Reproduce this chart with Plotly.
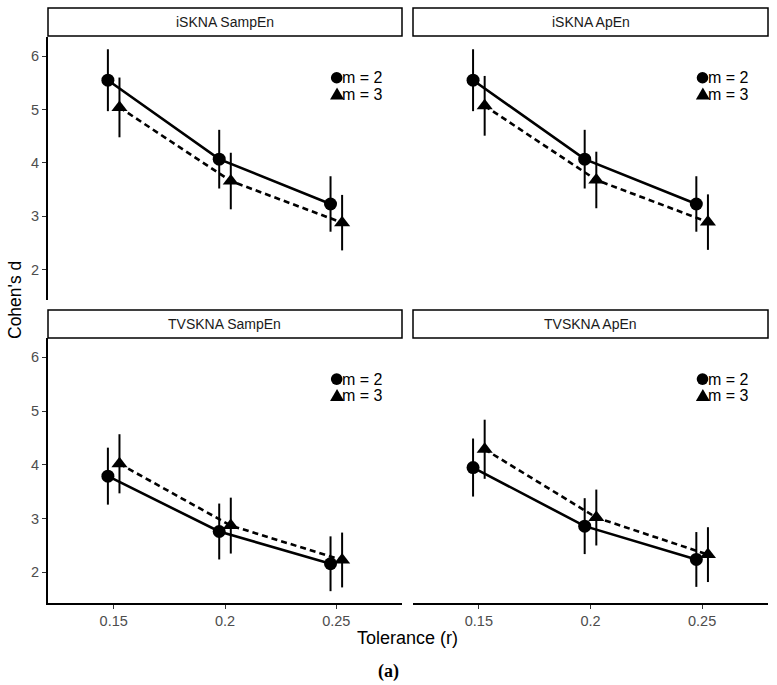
import plotly.graph_objects as go

W, H = 777, 685

tolerance = [0.15, 0.2, 0.25]
panels = ["iSKNA SampEn", "iSKNA ApEn", "TVSKNA SampEn", "TVSKNA ApEn"]

# Cohen's d estimates and error half-widths, m = 2 and m = 3
d_m2 = {
    "iSKNA SampEn": [5.55, 4.07, 3.23],
    "iSKNA ApEn": [5.55, 4.07, 3.23],
    "TVSKNA SampEn": [3.79, 2.76, 2.16],
    "TVSKNA ApEn": [3.95, 2.86, 2.24],
}
err_m2 = {
    "iSKNA SampEn": [0.58, 0.55, 0.52],
    "iSKNA ApEn": [0.58, 0.55, 0.52],
    "TVSKNA SampEn": [0.53, 0.52, 0.51],
    "TVSKNA ApEn": [0.54, 0.52, 0.51],
}
d_m3 = {
    "iSKNA SampEn": [5.04, 3.66, 2.88],
    "iSKNA ApEn": [5.07, 3.68, 2.89],
    "TVSKNA SampEn": [4.02, 2.87, 2.23],
    "TVSKNA ApEn": [4.29, 3.02, 2.33],
}
err_m3 = {
    "iSKNA SampEn": [0.56, 0.53, 0.52],
    "iSKNA ApEn": [0.56, 0.53, 0.52],
    "TVSKNA SampEn": [0.55, 0.52, 0.51],
    "TVSKNA ApEn": [0.55, 0.52, 0.51],
}
dodge = 0.0026

x_ticks = [0.15, 0.2, 0.25]
x_tick_labels = ["0.15", "0.2", "0.25"]
y_ticks = [2, 3, 4, 5, 6]
legend_labels = ["m = 2", "m = 3"]

def px_x(p):
    return p / W

def px_y(p):
    return 1 - p / H

# panel pixel boxes (left, right, top, bottom)
boxes = [
    (48, 402, 37, 300),
    (413, 768, 37, 300),
    (48, 402, 338, 603),
    (413, 768, 338, 603),
]
strips = [
    (48, 402, 8, 36),
    (413, 768, 8, 36),
    (48, 402, 310, 338),
    (413, 768, 310, 338),
]

fig = go.Figure()
SANS = "Liberation Sans, Arial, sans-serif"
layout = dict(
    width=W, height=H,
    margin=dict(l=0, r=0, t=0, b=0),
    plot_bgcolor="white", paper_bgcolor="white",
    showlegend=False,
    font=dict(family=SANS, color="black"),
)

shapes = []
annotations = []
tickfont = dict(family=SANS, size=14.5, color="#4d4d4d")

for i, name in enumerate(panels):
    k = "" if i == 0 else str(i + 1)
    xa, ya = "x" + k, "y" + k
    l, r, t, b = boxes[i]
    show_y = i in (0, 2)
    show_x = i in (2, 3)
    layout["xaxis" + k] = dict(
        domain=[px_x(l), px_x(r)], range=[0.1205, 0.2795], anchor=ya,
        showgrid=False, zeroline=False,
        showline=show_x, linecolor="black", linewidth=2,
        ticks="outside" if show_x else "", ticklen=4, tickcolor="#333333", tickwidth=1,
        tickvals=x_ticks, ticktext=x_tick_labels, showticklabels=show_x,
        tickfont=tickfont,
    )
    layout["yaxis" + k] = dict(
        domain=[px_y(b), px_y(t)], range=[1.43, 6.36], anchor=xa,
        showgrid=False, zeroline=False,
        showline=show_y, linecolor="black", linewidth=2,
        ticks="outside" if show_y else "", ticklen=4, tickcolor="#333333", tickwidth=1,
        tickvals=y_ticks, showticklabels=show_y,
        tickfont=tickfont,
    )

    x2 = [v - dodge for v in tolerance]
    x3 = [v + dodge for v in tolerance]
    fig.add_trace(go.Scatter(
        x=x2, y=d_m2[name], xaxis=xa, yaxis=ya, mode="lines+markers",
        line=dict(color="black", width=2.6, dash="solid"),
        marker=dict(symbol="circle", size=13, color="black"),
        error_y=dict(type="data", array=err_m2[name], color="black", thickness=2, width=0),
        cliponaxis=False,
    ))
    fig.add_trace(go.Scatter(
        x=x3, y=d_m3[name], xaxis=xa, yaxis=ya, mode="lines+markers",
        line=dict(color="black", width=2.6, dash="6px,4px"),
        marker=dict(symbol="triangle-up", size=14, color="black"),
        error_y=dict(type="data", array=err_m3[name], color="black", thickness=2, width=0),
        cliponaxis=False,
    ))

    # strip
    sl, sr, st, sb = strips[i]
    shapes.append(dict(type="rect", xref="paper", yref="paper",
                       x0=px_x(sl), x1=px_x(sr), y0=px_y(sb), y1=px_y(st),
                       line=dict(color="black", width=1.5), fillcolor="white", layer="above"))
    annotations.append(dict(xref="paper", yref="paper", x=px_x((sl + sr) / 2), y=px_y((st + sb) / 2),
                            text=name, showarrow=False, xanchor="center", yanchor="middle",
                            font=dict(size=14, color="#1a1a1a")))

    # legend keys inside panel (glyphs drawn as pixel-sized shapes)
    row_y = [0.845, 0.783]
    shapes.append(dict(type="circle", xref=xa + " domain", yref=ya + " domain",
                       xsizemode="pixel", ysizemode="pixel", xanchor=0.8155, yanchor=row_y[0],
                       x0=-5.8, x1=5.8, y0=-5.8, y1=5.8,
                       fillcolor="black", line=dict(width=0), layer="above"))
    shapes.append(dict(type="path", xref=xa + " domain", yref=ya + " domain",
                       xsizemode="pixel", ysizemode="pixel", xanchor=0.8165, yanchor=row_y[1],
                       path="M -7,-5.5 L 7,-5.5 L 0,6.5 Z",
                       fillcolor="black", line=dict(width=0), layer="above"))
    for lab, yy in zip(legend_labels, row_y):
        annotations.append(dict(
            xref=xa + " domain", yref=ya + " domain", x=0.826, y=yy,
            text=lab, showarrow=False, xanchor="left", yanchor="middle",
            font=dict(size=16, color="black")))

annotations.append(dict(xref="paper", yref="paper", x=px_x(15), y=px_y(300), text="Cohen's d",
                        textangle=-90, showarrow=False, xanchor="center", yanchor="middle",
                        font=dict(size=17.5, color="black")))
annotations.append(dict(xref="paper", yref="paper", x=px_x(407), y=px_y(638), text="Tolerance (r)",
                        showarrow=False, xanchor="center", yanchor="middle",
                        font=dict(size=18, color="black")))
annotations.append(dict(xref="paper", yref="paper", x=px_x(389), y=px_y(671), text="<b>(a)</b>",
                        showarrow=False, xanchor="center", yanchor="middle",
                        font=dict(family="Liberation Serif, Times New Roman, serif", size=18, color="black")))

layout["shapes"] = shapes
layout["annotations"] = annotations
fig.update_layout(**layout)
fig.write_html("out.html")
